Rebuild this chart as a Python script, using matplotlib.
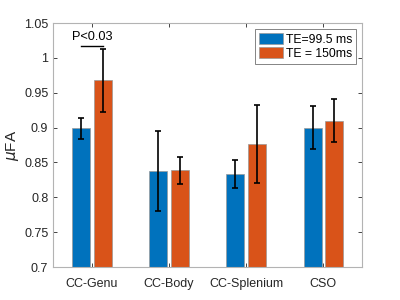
import numpy as np
from matplotlib import pyplot as plt

regions = ['CC-Genu', 'CC-Body', 'CC-Splenium', 'CSO']
fa_short = [0.899, 0.838, 0.833, 0.900]
fa_long = [0.968, 0.839, 0.876, 0.910]
err_short_lo = [0.884, 0.780, 0.813, 0.869]
err_short_hi = [0.914, 0.895, 0.854, 0.931]
err_long_lo = [0.922, 0.819, 0.821, 0.880]
err_long_hi = [1.013, 0.858, 0.932, 0.941]
series_labels = ['TE=99.5 ms', 'TE = 150ms']

blue = (0, 0.447, 0.741)
orange = (0.85, 0.325, 0.098)
axcol = (0.15, 0.15, 0.15)

plt.rcParams['font.family'] = ['Liberation Sans', 'DejaVu Sans']

fig = plt.figure(figsize=(4, 3), dpi=100)
ax = fig.add_axes([0.133, 0.11, 0.772, 0.813])

x = np.arange(1, len(regions) + 1)
off = 0.14
w = 0.235
fa_short = np.array(fa_short)
fa_long = np.array(fa_long)
ax.bar(x - off, fa_short, w, color=blue, edgecolor=(0.6, 0.6, 0.6), linewidth=0.5,
       label=series_labels[0])
ax.bar(x + off, fa_long, w, color=orange, edgecolor=(0.6, 0.6, 0.6), linewidth=0.5,
       label=series_labels[1])
ax.errorbar(x - off, fa_short, yerr=[fa_short - np.array(err_short_lo), np.array(err_short_hi) - fa_short],
            fmt='none', ecolor='black', elinewidth=1.2, capsize=2, capthick=1.2)
ax.errorbar(x + off, fa_long, yerr=[fa_long - np.array(err_long_lo), np.array(err_long_hi) - fa_long],
            fmt='none', ecolor='black', elinewidth=1.2, capsize=2, capthick=1.2)

# significance marker
ax.plot([1 - off, 1 + off], [1.017, 1.017], color='black', linewidth=1)
ax.text(1, 1.021, 'P<0.03', ha='center', va='bottom', fontsize=9.2, color='black')

ax.set_xlim(0.5, 4.5)
ax.set_ylim(0.7, 1.05)
ax.set_xticks(x)
ax.set_xticklabels(regions, fontsize=9.2)
ax.set_yticks([0.7, 0.75, 0.8, 0.85, 0.9, 0.95, 1, 1.05])
ax.set_yticklabels(['0.7', '0.75', '0.8', '0.85', '0.9', '0.95', '1', '1.05'])
ax.set_ylabel(r'$\mu$FA', fontsize=11, color=axcol, labelpad=2)
ax.tick_params(direction='in', top=True, right=True, labelsize=9, colors=axcol,
               length=3, width=0.6)
ax.tick_params(axis='x', pad=8)
for s in ax.spines.values():
    s.set_color((0.7, 0.7, 0.7))
    s.set_linewidth(0.8)

leg = ax.legend(loc='upper right', fontsize=8.8, frameon=True, fancybox=False,
                handlelength=2.0, handleheight=1.0, borderpad=0.3, labelspacing=0.15,
                handletextpad=0.2, borderaxespad=0.5)
leg.get_frame().set_edgecolor((0.3, 0.3, 0.3))
leg.get_frame().set_linewidth(0.6)

fig.savefig('out.png', dpi=100)
